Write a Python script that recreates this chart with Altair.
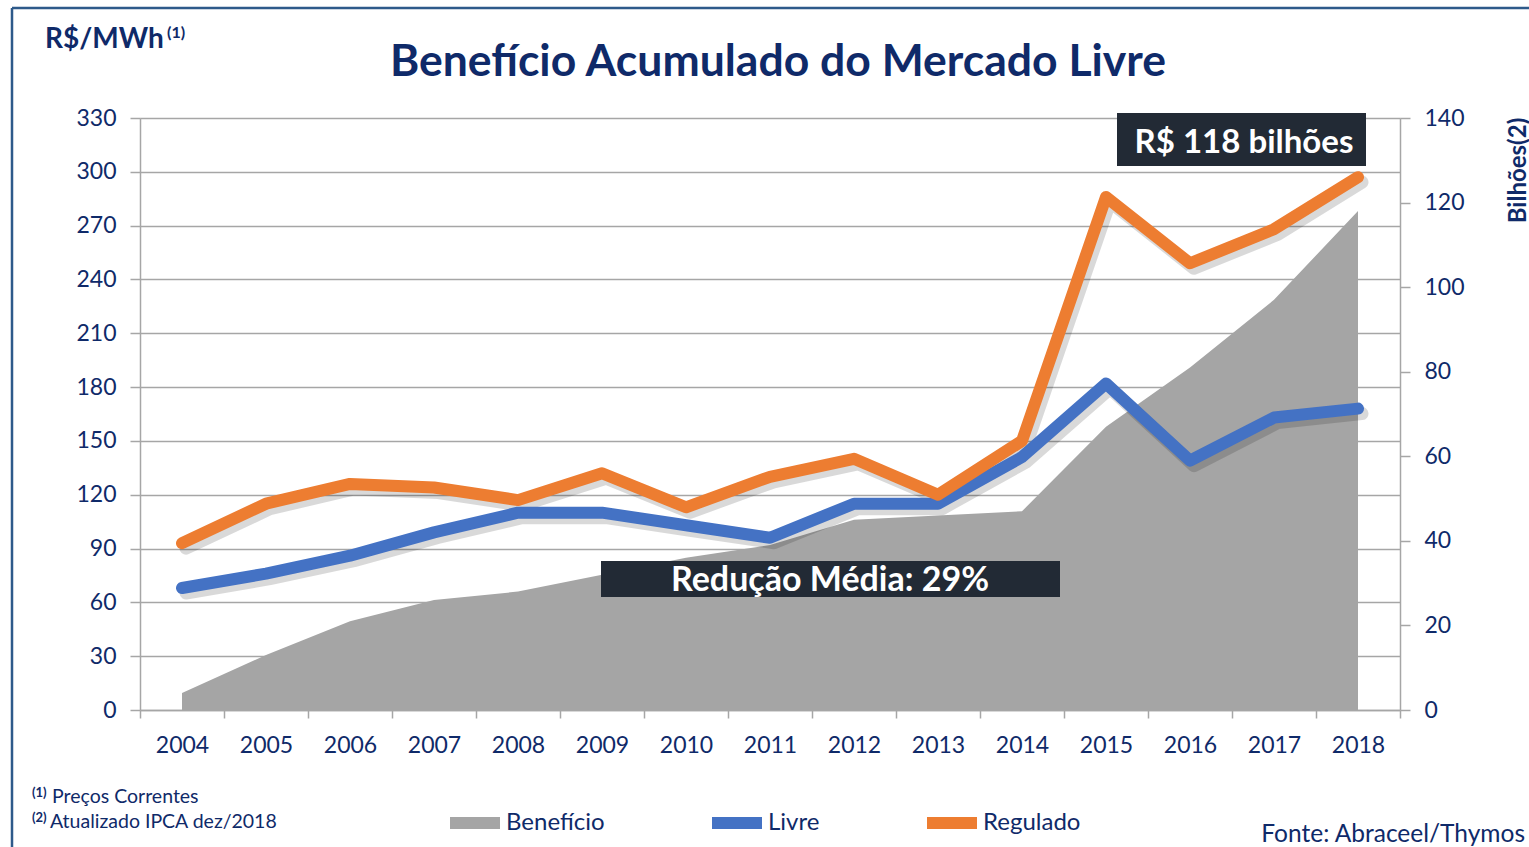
import altair as alt
import pandas as pd

# ---- data ----
anos = [str(a) for a in range(2004, 2019)]
regulado = [93, 115, 126, 124, 117, 132, 113, 130, 140, 120, 150, 286, 249, 268, 297]
livre = [68, 76, 86, 99, 110, 110, 103, 96, 115, 115, 141, 182, 139, 163, 168]
beneficio = [4, 13, 21, 26, 28, 32, 36, 39, 45, 46, 47, 67, 81, 97, 118]

TXT = "#0F2A69"
FONT = "Lato"
GRAY = "#A5A5A5"
BLUE = "#4472C4"
ORANGE = "#ED7D31"
BOX = "#222A35"

series_dom = ["Benefício", "Livre", "Regulado"]
series_rng = [GRAY, BLUE, ORANGE]

df_area = pd.DataFrame({"ano": anos, "valor": beneficio, "serie": "Benefício"})
df_lines = pd.concat([
    pd.DataFrame({"ano": anos, "valor": livre, "serie": "Livre"}),
    pd.DataFrame({"ano": anos, "valor": regulado, "serie": "Regulado"}),
])

xenc = alt.X(
    "ano:O",
    bandPosition=0.5,
    scale=alt.Scale(type="band", paddingInner=0, paddingOuter=0),
    axis=alt.Axis(
        title=None, labelAngle=0, labelFont=FONT, labelFontSize=23, labelColor=TXT,
        tickBand="extent", tickSize=8, tickColor="#A6A6A6", tickWidth=1.5,
        domainColor="#A6A6A6", domainWidth=1.5, labelPadding=16, grid=False,
    ),
)

color = alt.Color(
    "serie:N",
    scale=alt.Scale(domain=series_dom, range=series_rng),
    legend=alt.Legend(
        title=None, orient="none", direction="horizontal", legendX=304, legendY=674,
        symbolType="stroke", symbolSize=2500, symbolStrokeWidth=12,
        labelFont=FONT, labelFontSize=24, labelColor=TXT, labelOffset=0,
        columnPadding=83, symbolOpacity=1,
    ),
)

area = alt.Chart(df_area).mark_area(color=GRAY, opacity=1).encode(
    x=xenc,
    y=alt.Y(
        "valor:Q",
        scale=alt.Scale(domain=[0, 140], nice=False),
        axis=alt.Axis(
            orient="right", values=list(range(0, 141, 20)), grid=False,
            labelFont=FONT, labelFontSize=23, labelColor=TXT, labelPadding=14,
            tickSize=10, tickColor="#A6A6A6", tickWidth=1.5,
            domainColor="#A6A6A6", domainWidth=1.5,
            title="Bilhões(2)", titleAngle=270, titleFont=FONT, titleFontSize=24,
            titleFontWeight="bold", titleColor=TXT, titleX=118, titleY=52,
            titleAlign="center", titleBaseline="middle",
        ),
    ),
    color=color,
)

yl = alt.Y(
    "valor:Q",
    scale=alt.Scale(domain=[0, 330], nice=False),
    axis=alt.Axis(
        orient="left", values=list(range(0, 331, 30)), grid=True,
        gridColor="#A6A6A6", gridWidth=1.5,
        labelFont=FONT, labelFontSize=23, labelColor=TXT, labelPadding=14,
        tickSize=10, tickColor="#A6A6A6", tickWidth=1.5,
        domainColor="#A6A6A6", domainWidth=1.5, title=None,
    ),
)

shadow = alt.Chart(df_lines).mark_line(
    strokeWidth=13, color="#000000", opacity=0.15, strokeCap="round",
    strokeJoin="round", xOffset=4, yOffset=5,
).encode(x=xenc, y=yl, detail="serie:N")

lines = alt.Chart(df_lines).mark_line(
    strokeWidth=12, strokeCap="round", strokeJoin="round",
).encode(x=xenc, y=yl, color=color)

left = alt.layer(shadow, lines)

# ---- annotations (pixel positions relative to plot area) ----
one = pd.DataFrame({"k": [0]})

def box(x1, x2, y1, y2):
    return alt.Chart(one).mark_rect(color=BOX).encode(
        x=alt.value(x1), x2=alt.value(x2), y=alt.value(y1), y2=alt.value(y2))

def txt(s, x, y, size, bold=False, color=TXT, align="left"):
    kw = dict(font=FONT, fontSize=size, color=color, align=align, baseline="alphabetic")
    if bold:
        kw["fontWeight"] = "bold"
    return alt.Chart(pd.DataFrame({"t": [s]})).mark_text(**kw).encode(
        x=alt.value(x), y=alt.value(y), text="t:N")

annots = [
    txt("Benefício Acumulado do Mercado Livre", 638, -42, 44.5, bold=True, align="center"),
    box(977, 1226, -5, 48),
    txt("R$ 118 bilhões", 1104, 35, 33, bold=True, color="#FFFFFF", align="center"),
    box(461, 920, 443, 479),
    txt("Redução Média: 29%", 690, 473, 34, bold=True, color="#FFFFFF", align="center"),
    txt("R$/MWh", -95, -70, 28, bold=True),
    txt("(1)", 27, -80, 16, bold=True),
    txt("(1)", -108, 679, 13, bold=True),
    txt("Preços Correntes", -88, 685, 19.5),
    txt("(2)", -108, 704, 13, bold=True),
    txt("Atualizado IPCA  dez/2018", -90, 710, 19.5),
    txt("Fonte: Abraceel/Thymos", 1385, 724, 24.5, align="right"),
]

# border (top and left edges of the frame)
border = [
    alt.Chart(one).mark_rule(color="#2E5A8A", strokeWidth=2.5).encode(
        x=alt.value(-128), x2=alt.value(1400), y=alt.value(-110)),
    alt.Chart(one).mark_rule(color="#2E5A8A", strokeWidth=2.5).encode(
        x=alt.value(-128), y=alt.value(-110), y2=alt.value(740)),
]

chart = alt.layer(area, left, *annots, *border).resolve_scale(
    y="independent"
).properties(
    width=1260,
    height=592,
    autosize=alt.AutoSizeParams(type="none"),
    padding={"left": 140, "top": 118, "right": 129, "bottom": 137},
).configure_view(stroke=None).configure(background="#FFFFFF")

chart.save("out.html", embed_options={"renderer": "svg", "actions": False})
